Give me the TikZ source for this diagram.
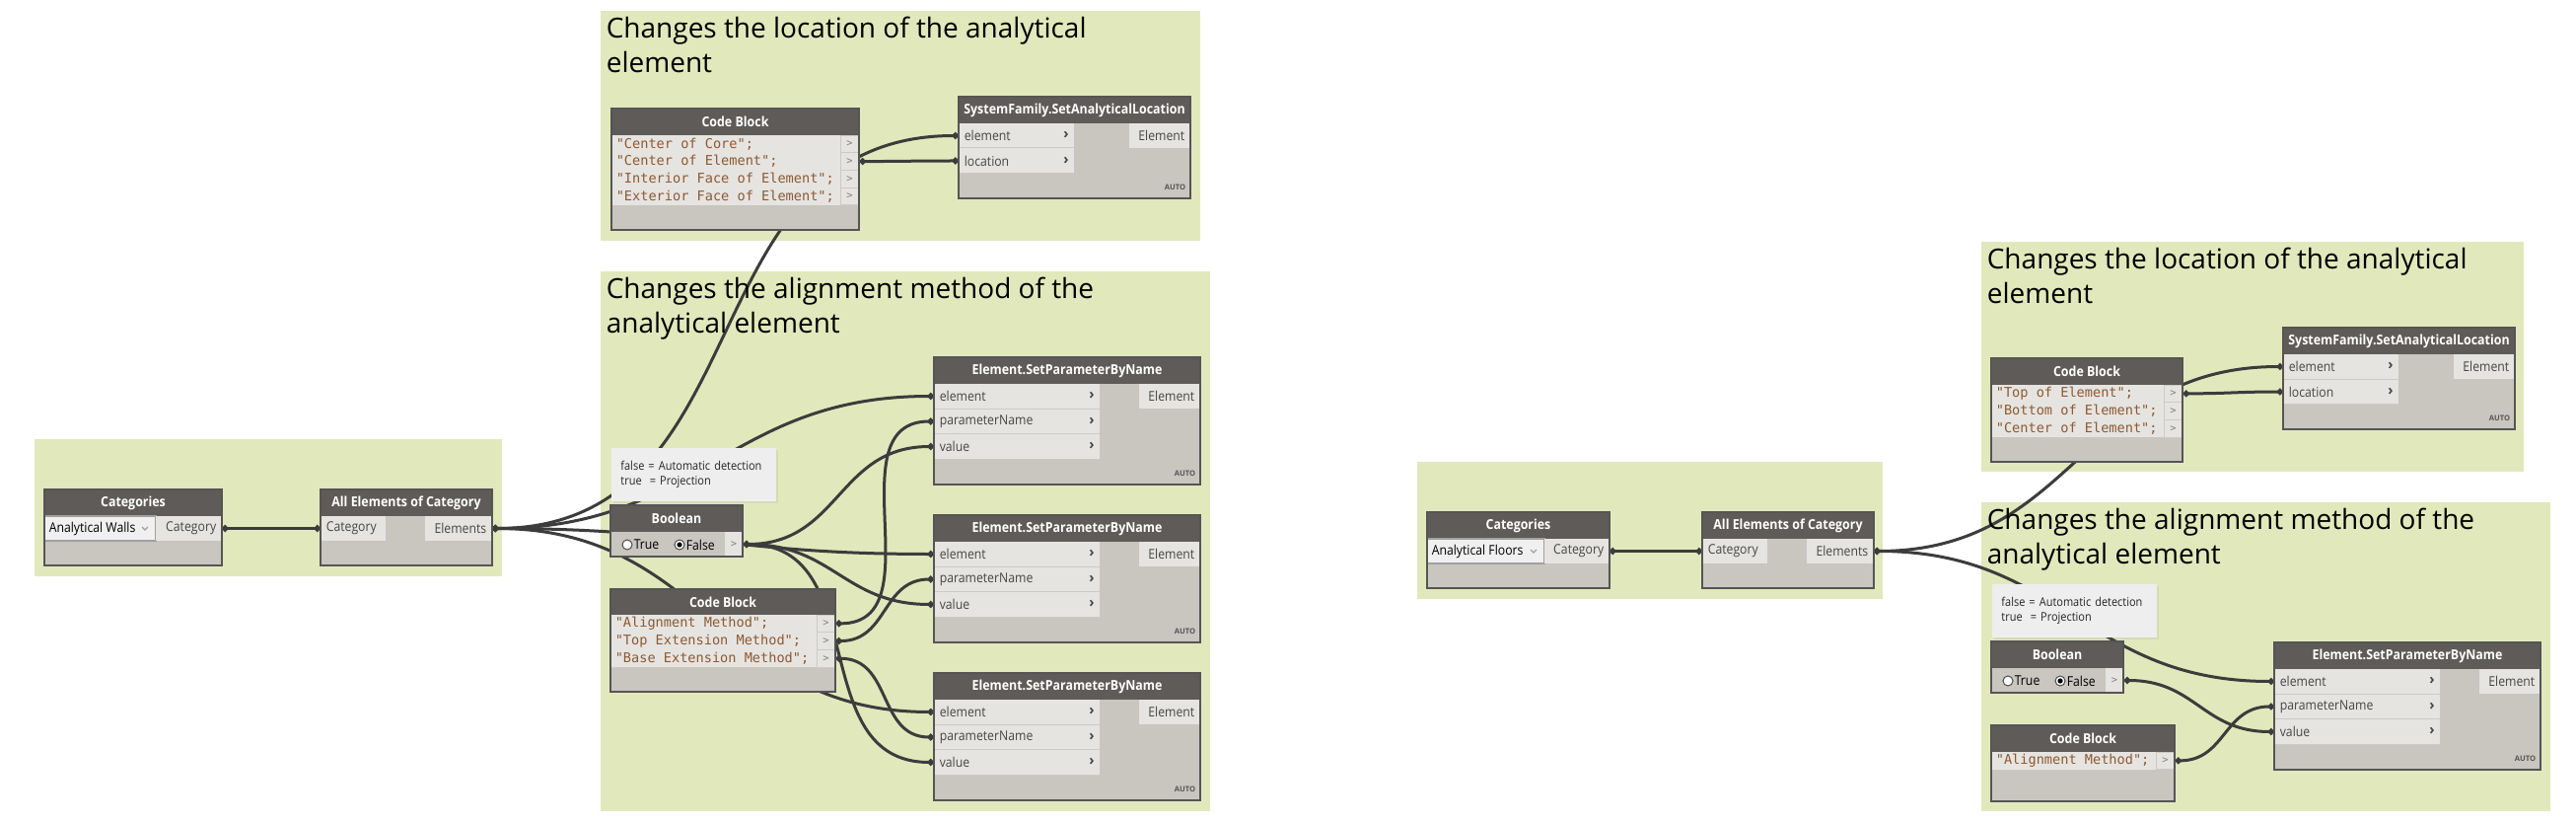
\documentclass[tikz,border=0pt]{standalone}
\usepackage{fontspec}
\setmainfont{Open Sans}
\newfontfamily\uifont{Open Sans}[FakeStretch=0.9]
\newfontfamily\codefont{DejaVu Sans Mono}
\usetikzlibrary{arrows.meta, shadows}

\definecolor{groupbg}{RGB}{225,233,188}
\definecolor{headbg}{RGB}{94,91,88}
\definecolor{bodybg}{RGB}{201,197,191}
\definecolor{portbg}{RGB}{230,228,225}
\definecolor{sepc}{RGB}{205,202,198}
\definecolor{edge}{RGB}{85,85,85}
\definecolor{wirec}{RGB}{60,60,60}
\definecolor{codec}{RGB}{140,90,50}
\definecolor{notebg}{RGB}{238,238,238}
\definecolor{labelc}{RGB}{70,70,70}
\definecolor{dropbg}{RGB}{240,240,240}
\definecolor{dropline}{RGB}{160,160,160}

\pgfdeclarelayer{groups}
\pgfdeclarelayer{wires}
\pgfdeclarelayer{frames}
\pgfsetlayers{groups,wires,main,frames}

\tikzset{
    dgroup/.style={fill=groupbg}, % group background
    gtitle/.style={anchor=north west, inner sep=0, align=left, font=\fontsize{7}{8.75}\selectfont},
    dhead/.style={text=white, inner sep=0, font=\uifont\fontsize{3.45}{4}\selectfont\bfseries},
    frame/.style={draw=edge, line width=0.3pt},
    sep/.style={draw=sepc, line width=0.25pt},
    inlabel/.style={anchor=west, inner xsep=1.25pt, inner ysep=0, text=labelc, font=\uifont\fontsize{3.4}{4}\selectfont},
    outlabel/.style={inlabel, anchor=east},
    chevron/.style={inner sep=0, text=labelc, font=\fontsize{3.6}{4}\selectfont\bfseries},
    codetext/.style={anchor=west, inner sep=0, text=codec, font=\codefont\fontsize{3.4}{4}\selectfont},
    codeport/.style={minimum width=4.75pt, minimum height=4.4pt, inner sep=0, fill=portbg, sep, text=gray, font=\codefont\fontsize{2.6}{3}\selectfont},
    boolport/.style={minimum width=4.5pt, minimum height=6.25pt, inner sep=0, fill=portbg, text=gray, font=\codefont\fontsize{2.6}{3}\selectfont},
    radio/.style={draw=black!70, fill=white, line width=0.25pt},
    radiotext/.style={anchor=west, inner sep=0, font=\uifont\fontsize{3.4}{4}\selectfont},
    droptext/.style={anchor=west, inner sep=0, font=\uifont\fontsize{3.4}{4}\selectfont},
    dnote/.style={anchor=north west, fill=notebg, text width=37pt, minimum height=12.25pt, inner xsep=2.4pt, align=left, text=black!85, font=\uifont\fontsize{3.05}{3.75}\selectfont, drop shadow={opacity=0.12, shadow xshift=0.5pt, shadow yshift=-0.5pt}},
    lacemark/.style={anchor=east, inner sep=0, text=edge, font=\fontsize{1.9}{2}\selectfont\bfseries},
    wire/.style={draw=wirec, line width=0.75pt, out=0, in=180, looseness=1.15, arrows={Circle[length=1.6pt]-Circle[length=1.6pt]}},
}

% node body: name, x, y, width, height, title
\newcommand\dynbox[6]{%
  \fill[bodybg] (#2,#3) rectangle ++(#4,#5);
  \fill[headbg] (#2,#3) rectangle ++(#4,27);
  \node[dhead] (#1) at (#2+#4/2,#3+13.5) {#6};
  \begin{pgfonlayer}{frames}
    \draw[frame] (#2,#3) rectangle ++(#4,#5);
  \end{pgfonlayer}
}
% ports: name, x, y, width, label
\newcommand\inport[5]{%
  \fill[portbg] (#2,#3) rectangle ++(#4,25);
  \node[inlabel] (#1) at (#2,#3+12.5) {#5};
}
\newcommand\argport[5]{%
  \inport{#1}{#2}{#3}{#4}{#5}
  \draw[sep] (#2,#3+25) -- ++(#4,0);
  \node[chevron] (#1-chev) at (#2+#4-8,#3+12) {›};
}
\newcommand\outport[5]{%
  \fill[portbg] ({#2-(#4)},#3) rectangle (#2,#3+25);
  \node[outlabel] (#1) at (#2,#3+12.5) {#5};
}
\newcommand\lacing[3]{\node[lacemark] (#1-auto) at (#2-4,#3-11) {AUTO};}
% code block line: name, x, y, width, code
\newcommand\codeline[5]{%
  \fill[portbg] (#2,#3) rectangle ++(#4-19,17.7);
  \node[codetext] (#1-code) at (#2+4,#3+8.85) {#5};
  \node[codeport] (#1) at (#2+#4-9.5,#3+8.85) {>};
}
\newcommand\dyngroup[5]{%
  \begin{pgfonlayer}{groups}
    \fill[dgroup] (#2,#3) rectangle (#4,#5);
  \end{pgfonlayer}
}
\newcommand\catnode[6]{% name, x, y, width, list width, item
  \dynbox{#1}{#2}{#3}{#4}{77}{Categories}
  \fill[dropbg, draw=dropline, line width=0.3pt] (#2,#3+27) rectangle ++(#5,25);
  \node[droptext] (#1-item) at (#2+4,#3+39.5) {#6};
  \draw[dropline, line width=0.3pt] (#2+#5-14,#3+38) -- ++(3,3) -- ++(3,-3);
  \outport{#1-o}{#2+#4}{#3+27}{#4-#5}{Category}
}
\newcommand\allnode[3]{%
  \dynbox{#1}{#2}{#3}{174}{77}{All Elements of Category}
  \inport{#1-i}{#2}{#3+27}{66}{Category}
  \outport{#1-o}{#2+174}{#3+27}{68}{Elements}
}
\newcommand\sysloc[3]{%
  \dynbox{#1}{#2}{#3}{235}{103}{SystemFamily.SetAnalyticalLocation}
  \argport{#1-e}{#2}{#3+27}{117}{element}
  \argport{#1-l}{#2}{#3+52.5}{117}{location}
  \outport{#1-o}{#2+235}{#3+27}{62}{Element}
  \lacing{#1}{#2+235}{#3+103}
}
\newcommand\setparam[3]{%
  \dynbox{#1}{#2}{#3}{270}{129}{Element.SetParameterByName}
  \argport{#1-e}{#2}{#3+27}{168}{element}
  \argport{#1-p}{#2}{#3+52.5}{168}{parameterName}
  \argport{#1-v}{#2}{#3+78}{168}{value}
  \outport{#1-o}{#2+270}{#3+27}{62}{Element}
  \lacing{#1}{#2+270}{#3+129}
}
\newcommand\boolnode[3]{%
  \dynbox{#1}{#2}{#3}{134}{52}{Boolean}
  \draw[radio] (#2+17,#3+40) circle[radius=5];
  \node[radiotext] (#1-true) at (#2+23,#3+40) {True};
  \draw[radio] (#2+70,#3+40) circle[radius=5];
  \fill[black] (#2+70,#3+40) circle[radius=2.6];
  \node[radiotext] (#1-false) at (#2+76,#3+40) {False};
  \node[boolport] (#1-o) at (#2+125,#3+39.5) {>};
}

\begin{document}
\begin{tikzpicture}[x=0.25pt, y=-0.25pt]
\useasboundingbox (0,0) rectangle (2612,834);

% ---- analytical walls ----
\dyngroup{gwalls}{35}{445}{509}{584}
\dyngroup{glocL}{609}{11}{1217}{244}
\node[gtitle] (glocL-title) at (614,16) {Changes the location of the analytical\\element};
\dyngroup{galignL}{609}{275}{1227}{822}
\node[gtitle] (galignL-title) at (614,280) {Changes the alignment method of the\\analytical element};

\catnode{catL}{45}{496}{180}{113}{Analytical Walls}
\allnode{aeL}{325}{496}

\dynbox{cb1}{620}{110}{251}{123}{Code Block}
\codeline{cb1-1}{620}{137}{251}{"Center of Core";}
\codeline{cb1-2}{620}{154.7}{251}{"Center of Element";}
\codeline{cb1-3}{620}{172.4}{251}{"Interior Face of Element";}
\codeline{cb1-4}{620}{190.1}{251}{"Exterior Face of Element";}
\sysloc{sfL}{972}{98}

\node[dnote] (noteL) at (619,453) {false = Automatic detection\\true\ \ = Projection};
\boolnode{boolL}{619}{512}
\dynbox{cb2}{619}{597}{228}{104}{Code Block}
\codeline{cb2-1}{619}{623}{228}{"Alignment Method";}
\codeline{cb2-2}{619}{640.7}{228}{"Top Extension Method";}
\codeline{cb2-3}{619}{658.4}{228}{"Base Extension Method";}
\setparam{spA}{947}{362}
\setparam{spB}{947}{522}
\setparam{spC}{947}{682}

% ---- analytical floors ----
\dyngroup{gfloors}{1437}{468}{1909}{607}
\dyngroup{glocR}{2009}{245}{2559}{478}
\node[gtitle] (glocR-title) at (2014,250) {Changes the location of the analytical\\element};
\dyngroup{galignR}{2009}{509}{2586}{822}
\node[gtitle] (galignR-title) at (2014,514) {Changes the alignment method of the\\analytical element};

\catnode{catR}{1447}{519}{185}{119}{Analytical Floors}
\allnode{aeR}{1726}{519}

\dynbox{cb3}{2019}{363}{194}{105}{Code Block}
\codeline{cb3-1}{2019}{390}{194}{"Top of Element";}
\codeline{cb3-2}{2019}{407.7}{194}{"Bottom of Element";}
\codeline{cb3-3}{2019}{425.4}{194}{"Center of Element";}
\sysloc{sfR}{2315}{332}

\node[dnote] (noteR) at (2019,591) {false = Automatic detection\\true\ \ = Projection};
\boolnode{boolR}{2019}{650}
\dynbox{cb4}{2019}{735}{186}{77}{Code Block}
\codeline{cb4-1}{2019}{762}{186}{"Alignment Method";}
\setparam{spR}{2306}{651}

% ---- wires ----
\begin{pgfonlayer}{wires}
  \draw[wire] (catL-o.east) to (aeL-i.west);
  \foreach \dst in {sfL-e, spA-e, spB-e, spC-e}
    \draw[wire] (aeL-o.east) to (\dst.west);
  \draw[wire] (cb1-2.east) to (sfL-l.west);
  \foreach \dst in {spA, spB, spC}
    \draw[wire] (boolL-o.east) to (\dst-v.west);
  \foreach \src/\dst in {1/spA, 2/spB, 3/spC}
    \draw[wire] (cb2-\src.east) to (\dst-p.west);

  \draw[wire] (catR-o.east) to (aeR-i.west);
  \draw[wire] (aeR-o.east) to (sfR-e.west);
  \draw[wire] (aeR-o.east) to (spR-e.west);
  \draw[wire] (cb3-1.east) to (sfR-l.west);
  \draw[wire] (boolR-o.east) to (spR-v.west);
  \draw[wire] (cb4-1.east) to (spR-p.west);
\end{pgfonlayer}
\end{tikzpicture}
\end{document}
